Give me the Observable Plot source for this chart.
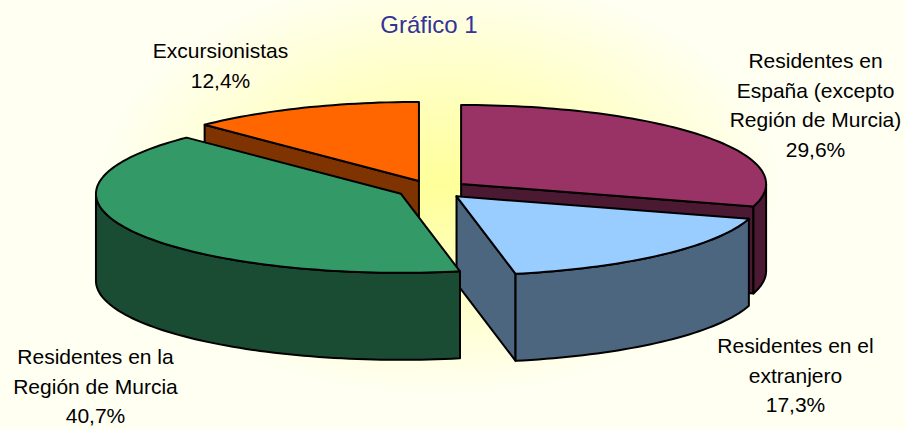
<!DOCTYPE html>
<html><head><meta charset="utf-8">
<script src="https://cdn.jsdelivr.net/npm/d3@7"></script>
<script src="https://cdn.jsdelivr.net/npm/@observablehq/plot@0.6"></script>
<style>
html,body{margin:0;padding:0;}
body{width:905px;height:430px;overflow:hidden;background:#fffff2 radial-gradient(ellipse 340px 210px at 440px 185px,#ffff99 0%,#ffffc0 45%,#fffff2 100%);}
</style></head><body><div id="chart"></div>
<script>
// ---- data ----
const categories = ["Residentes en España (excepto Región de Murcia)", "Residentes en el extranjero", "Residentes en la Región de Murcia", "Excursionistas"];
const values = [29.6, 17.3, 40.7, 12.4];
const labelLines = ["Residentes en\nEspaña (excepto\nRegión de Murcia)", "Residentes en el\nextranjero", "Residentes en la\nRegión de Murcia", "Excursionistas"];
const title = "Gráfico 1";

// ---- style / layout ----
const topColors = ["#993366", "#99ccff", "#339966", "#ff6600"];
const sideColors = ["#4c1933", "#4c667f", "#1a4c33", "#7f3300"];
const W = 905, H = 430;
const geom = {cx: 432, cy: 189, rx: 305, ry: 79, depth: 87, explode: 0.117};
const labelPos = [[815, 47], [795, 332], [95, 343], [220, 37]];
const font = "Liberation Sans, Arial, sans-serif";

// ---- geometry from values ----
const total = d3.sum(values);
const TAU = 2 * Math.PI;
let acc = 0;
const slices = values.map((v, i) => {
  const a0 = acc / total * TAU; acc += v; const a1 = acc / total * TAU; const m = (a0 + a1) / 2;
  return {i, a0, a1, m, ox: geom.explode * geom.rx * Math.sin(m), oy: -geom.explode * geom.ry * Math.cos(m)};
});
const pt = (s, a, z) => ({x: geom.cx + s.ox + geom.rx * Math.sin(a), y: geom.cy + s.oy - geom.ry * Math.cos(a) + z * geom.depth});
const ctr = (s, z) => ({x: geom.cx + s.ox, y: geom.cy + s.oy + z * geom.depth});
const arc = (s, a0, a1, z) => { const n = Math.max(2, Math.ceil((a1 - a0) / TAU * 240)); return d3.range(n + 1).map(k => pt(s, a0 + (a1 - a0) * k / n, z)); };
const close = pts => [...pts, pts[0]];

const walls = [], outers = [], tops = [];
for (const s of slices) {
  if (Math.sin(s.a0) < -1e-6) walls.push({s, pts: close([ctr(s, 0), pt(s, s.a0, 0), pt(s, s.a0, 1), ctr(s, 1)])});
  if (Math.sin(s.a1) > 1e-6) walls.push({s, pts: close([ctr(s, 0), pt(s, s.a1, 0), pt(s, s.a1, 1), ctr(s, 1)])});
  const b0 = Math.max(s.a0, Math.PI / 2), b1 = Math.min(s.a1, 3 * Math.PI / 2);
  if (b1 > b0) outers.push({s, pts: close([...arc(s, b0, b1, 0), ...arc(s, b0, b1, 1).reverse()])});
  tops.push({s, pts: close([ctr(s, 0), ...arc(s, s.a0, s.a1, 0)])});
}
const polyMark = (p, color) => Plot.line(p.pts, {x: "x", y: "y", fill: color, stroke: "#000", strokeWidth: 2, strokeLinejoin: "round", curve: "linear"});
const fmt = v => v.toFixed(1).replace(".", ",") + "%";

const chart = Plot.plot({
  width: W, height: H, margin: 0,
  x: {domain: [0, W], range: [0, W], axis: null},
  y: {domain: [0, H], range: [0, H], axis: null},
  style: {background: "transparent", fontFamily: font},
  marks: [
    ...walls.map(p => polyMark(p, sideColors[p.s.i])),
    ...outers.map(p => polyMark(p, sideColors[p.s.i])),
    ...tops.map(p => polyMark(p, topColors[p.s.i])),
    Plot.text(slices, {x: d => labelPos[d.i][0], y: d => labelPos[d.i][1], text: d => labelLines[d.i] + "\n" + fmt(values[d.i]),
      textAnchor: "middle", lineAnchor: "top", fontSize: 21, lineHeight: 1.4, fill: "#000", fontFamily: font}),
    Plot.text([title], {frameAnchor: "top", dx: -24, dy: 15, lineAnchor: "top", fontSize: 24, fill: "#333399", fontFamily: font})
  ]
});
document.getElementById("chart").appendChild(chart);
</script></body></html>
